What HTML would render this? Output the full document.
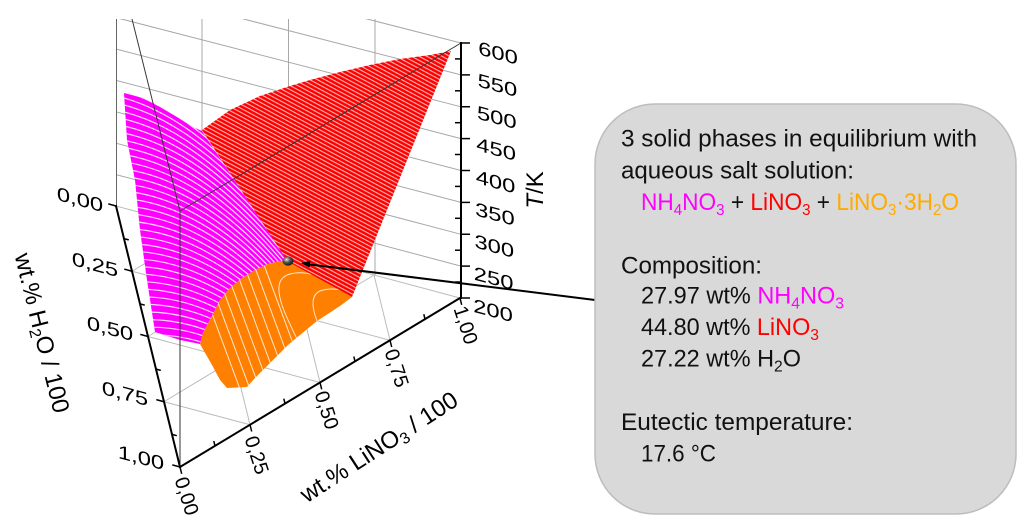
<!DOCTYPE html>
<html><head><meta charset="utf-8"><style>html,body{margin:0;padding:0;background:#fff;}svg{display:block}</style></head>
<body>
<svg width="1024" height="517" viewBox="0 0 1024 517" xmlns="http://www.w3.org/2000/svg" font-family="'Liberation Sans', Arial, sans-serif">
<defs>
  <clipPath id="plot"><rect x="0" y="19" width="590" height="498"/></clipPath>
  <clipPath id="cm"><polygon points="124,93 143,98 160,107 177,117 193,127 202,131 288,261 280,261 268,264 255,270 242,278 230,288 220,300 213,314 203,333 200,344 180,340 155,332 147,280 140,230 135,180 127,140"/></clipPath>
  <clipPath id="co"><polygon points="287,261 352,297 340,306 317,321 300,335 288,345 270,363 255,378 247,387 227,388 220,380 212,365 200,344 203,333 213,314 220,300 230,288 242,278 255,270 268,264 280,261"/></clipPath>
  <pattern id="rs" patternUnits="userSpaceOnUse" width="20" height="3.6" patternTransform="rotate(28)">
    <rect width="20" height="3.6" fill="#ff0000"/>
    <rect y="0" width="20" height="1.1" fill="#ffb4b4"/>
  </pattern>
  <radialGradient id="sph" cx="0.38" cy="0.35" r="0.7">
    <stop offset="0" stop-color="#e8e8e8"/>
    <stop offset="0.45" stop-color="#555"/>
    <stop offset="1" stop-color="#111"/>
  </radialGradient>
</defs>

<g clip-path="url(#plot)">
  <g stroke="#a8a8a8" stroke-width="1" fill="none">
    <line x1="116" y1="174.6" x2="461" y2="266.1"/>
    <line x1="116" y1="143.2" x2="461" y2="234.3"/>
    <line x1="116" y1="111.8" x2="461" y2="202.4"/>
    <line x1="116" y1="80.4" x2="461" y2="170.5"/>
    <line x1="116" y1="49" x2="461" y2="138.6"/>
    <line x1="116" y1="17.6" x2="461" y2="106.8"/>
    <line x1="116" y1="-13.8" x2="461" y2="74.9"/>
    <line x1="116" y1="-45.2" x2="461" y2="43"/>
    <line x1="202" y1="229" x2="202" y2="-40"/>
    <line x1="288.5" y1="252" x2="288.5" y2="-40"/>
    <line x1="375" y1="275" x2="375" y2="-40"/>
  </g>
  <g stroke="#bbbbbb" stroke-width="1" fill="none">
    <line x1="116" y1="206" x2="460" y2="298"/>
    <line x1="202" y1="229" x2="250" y2="424.75"/>
    <line x1="288" y1="252" x2="320" y2="382.5"/>
    <line x1="374" y1="275" x2="390" y2="340.25"/>
    <line x1="132" y1="271.25" x2="390" y2="340.25"/>
    <line x1="148" y1="336.5" x2="320" y2="382.5"/>
    <line x1="164" y1="401.75" x2="250" y2="424.75"/>
    <line x1="164" y1="401.75" x2="374" y2="275"/>
    <line x1="148" y1="336.5" x2="288" y2="252"/>
    <line x1="132" y1="271.25" x2="202" y2="229"/>
  </g>
  <line x1="116.5" y1="206" x2="116.5" y2="-45" stroke="#666" stroke-width="1"/>

  <polygon points="124,93 143,98 160,107 177,117 193,127 202,131 288,261 280,261 268,264 255,270 242,278 230,288 220,300 213,314 203,333 200,344 180,340 155,332 147,280 140,230 135,180 127,140" fill="#ff00ff"/>
  <g clip-path="url(#cm)">
    <path fill="none" stroke="#ffffff" stroke-opacity="0.85" stroke-width="1.2" d="M76.9 84Q186.9 84 296.9 239M79.3 91.6Q189.3 91.6 299.3 246.6M81.6 99.2Q191.6 99.2 301.6 254.2M83.9 106.8Q193.9 106.8 303.9 261.8M86.2 114.4Q196.2 114.4 306.2 269.4M88.6 122Q198.6 122 308.6 277M90.9 129.6Q200.9 129.6 310.9 284.6M93.2 137.2Q203.2 137.2 313.2 292.2M95.5 144.8Q205.5 144.8 315.5 299.8M97.9 152.4Q207.9 152.4 317.9 307.4M100.2 160Q210.2 160 320.2 315M102.5 167.6Q212.5 167.6 322.5 322.6M104.8 175.2Q214.8 175.2 324.8 330.2M107.2 182.8Q217.2 182.8 327.2 337.8M109.5 190.4Q219.5 190.4 329.5 345.4M111.8 198Q221.8 198 331.8 353M114.2 205.6Q224.2 205.6 334.2 360.6M116.5 213.2Q226.5 213.2 336.5 368.2M118.8 220.8Q228.8 220.8 338.8 375.8M121.1 228.4Q231.1 228.4 341.1 383.4M123.5 236Q233.5 236 343.5 391M125.8 243.6Q235.8 243.6 345.8 398.6M128.1 251.2Q238.1 251.2 348.1 406.2M130.4 258.8Q240.4 258.8 350.4 413.8M132.8 266.4Q242.8 266.4 352.8 421.4M135.1 274Q245.1 274 355.1 429M137.4 281.6Q247.4 281.6 357.4 436.6M139.7 289.2Q249.7 289.2 359.7 444.2M142.1 296.8Q252.1 296.8 362.1 451.8M144.4 304.4Q254.4 304.4 364.4 459.4M146.7 312Q256.7 312 366.7 467M149 319.6Q259 319.6 369 474.6M151.4 327.2Q261.4 327.2 371.4 482.2M153.7 334.8Q263.7 334.8 373.7 489.8M156 342.4Q266 342.4 376 497.4"/>
  </g>

  <polygon points="202,130 230,110 260,96 290,86 310,80 340,72 370,65 400,59 430,55 451,51 352,297 288,262" fill="url(#rs)"/>

  <polygon points="287,261 352,297 340,306 317,321 300,335 288,345 270,363 255,378 247,387 227,388 220,380 212,365 200,344 203,333 213,314 220,300 230,288 242,278 255,270 268,264 280,261" fill="#ff8000"/>
  <g clip-path="url(#co)" stroke="#ffffff" stroke-opacity="0.8" stroke-width="1" fill="none">
    <line x1="181.1" y1="230" x2="247.7" y2="410"/>
    <line x1="191.1" y1="230" x2="257.7" y2="410"/>
    <line x1="201.1" y1="230" x2="267.7" y2="410"/>
    <line x1="211.1" y1="230" x2="277.7" y2="410"/>
    <line x1="221.1" y1="230" x2="287.7" y2="410"/>
    <line x1="231.1" y1="230" x2="297.7" y2="410"/>
    <line x1="241.1" y1="230" x2="307.7" y2="410"/>
    <line x1="251.1" y1="230" x2="317.7" y2="410"/>
    <path d="M300 345 C285 315 274 292 281 280 C289 268 320 270 352 293"/>
    <path d="M322 332 C312 312 309 296 320 291 C331 287 345 289 358 296"/>
  </g>

  <g stroke="#333" stroke-width="1" fill="none">
    <line x1="180" y1="211" x2="461" y2="43"/>
    <line x1="180" y1="211" x2="116" y2="-45"/>
    <line x1="180" y1="211" x2="180" y2="467"/>
  </g>
</g>

<g stroke="#000" stroke-width="2" fill="none" stroke-linecap="square">
  <line x1="116" y1="206" x2="180" y2="467"/>
  <line x1="180" y1="467" x2="460" y2="298"/>
  <line x1="461" y1="43" x2="461" y2="298"/>
</g>
<g stroke="#000" stroke-width="1.5" fill="none">
  <line x1="461" y1="43" x2="470" y2="43"/>
  <line x1="461" y1="74.9" x2="470" y2="74.9"/>
  <line x1="461" y1="106.75" x2="470" y2="106.75"/>
  <line x1="461" y1="138.6" x2="470" y2="138.6"/>
  <line x1="461" y1="170.5" x2="470" y2="170.5"/>
  <line x1="461" y1="202.4" x2="470" y2="202.4"/>
  <line x1="461" y1="234.25" x2="470" y2="234.25"/>
  <line x1="461" y1="266.1" x2="470" y2="266.1"/>
  <line x1="461" y1="298" x2="470" y2="298"/>
  <line x1="455" y1="58.9" x2="461" y2="58.9"/>
  <line x1="455" y1="90.8" x2="461" y2="90.8"/>
  <line x1="455" y1="122.7" x2="461" y2="122.7"/>
  <line x1="455" y1="154.5" x2="461" y2="154.5"/>
  <line x1="455" y1="186.4" x2="461" y2="186.4"/>
  <line x1="455" y1="218.3" x2="461" y2="218.3"/>
  <line x1="455" y1="250.2" x2="461" y2="250.2"/>
  <line x1="455" y1="282" x2="461" y2="282"/>
  <line x1="180" y1="467" x2="181.7" y2="473.8"/>
  <line x1="250" y1="424.75" x2="251.7" y2="431.5"/>
  <line x1="320" y1="382.5" x2="321.7" y2="389.3"/>
  <line x1="390" y1="340.25" x2="391.7" y2="347"/>
  <line x1="460" y1="298" x2="461.7" y2="304.8"/>
  <line x1="215" y1="445.9" x2="213.8" y2="441"/>
  <line x1="285" y1="403.6" x2="283.8" y2="398.7"/>
  <line x1="355" y1="361.4" x2="353.8" y2="356.5"/>
  <line x1="425" y1="319.1" x2="423.8" y2="314.2"/>
  <line x1="116" y1="206" x2="108.3" y2="203.9"/>
  <line x1="132" y1="271.25" x2="124.3" y2="269.15"/>
  <line x1="148" y1="336.5" x2="140.3" y2="334.4"/>
  <line x1="164" y1="401.75" x2="156.3" y2="399.65"/>
  <line x1="180" y1="467" x2="172.3" y2="464.9"/>
  <line x1="124" y1="238.6" x2="128.8" y2="239.9"/>
  <line x1="140" y1="303.9" x2="144.8" y2="305.2"/>
  <line x1="156" y1="369.1" x2="160.8" y2="370.4"/>
  <line x1="172" y1="434.4" x2="176.8" y2="435.7"/>
</g>

<ellipse cx="288" cy="261" rx="5.5" ry="4.6" fill="url(#sph)"/>
<line x1="308" y1="264.2" x2="595" y2="300" stroke="#000" stroke-width="2"/>
<polygon points="301,263 310.4,260.6 309.6,267.6" fill="#000"/>

<g font-size="19" fill="#000" text-anchor="middle">
  <text transform="translate(498,52.5) skewY(15) scale(1.25,1)" y="7">600</text>
  <text transform="translate(497.4,84.7) skewY(15) scale(1.25,1)" y="7">550</text>
  <text transform="translate(496.75,116.9) skewY(15) scale(1.25,1)" y="7">500</text>
  <text transform="translate(496.1,148.6) skewY(15) scale(1.25,1)" y="7">450</text>
  <text transform="translate(495.5,181.2) skewY(15) scale(1.25,1)" y="7">400</text>
  <text transform="translate(494.9,213.5) skewY(15) scale(1.25,1)" y="7">350</text>
  <text transform="translate(494.25,245.6) skewY(15) scale(1.25,1)" y="7">300</text>
  <text transform="translate(493.6,277.8) skewY(15) scale(1.25,1)" y="7">250</text>
  <text transform="translate(493,310) skewY(15) scale(1.25,1)" y="7">200</text>
  <text transform="translate(80,199) skewY(15) scale(1.25,1)" y="7">0,00</text>
  <text transform="translate(95,264) skewY(15) scale(1.25,1)" y="7">0,25</text>
  <text transform="translate(110,328) skewY(15) scale(1.25,1)" y="7">0,50</text>
  <text transform="translate(125,393) skewY(15) scale(1.25,1)" y="7">0,75</text>
  <text transform="translate(141,457) skewY(15) scale(1.25,1)" y="7">1,00</text>
</g>
<g font-size="20" fill="#000" text-anchor="middle">
  <text transform="translate(187,496) rotate(72)" y="7">0,00</text>
  <text transform="translate(257,455) rotate(72)" y="7">0,25</text>
  <text transform="translate(327,410) rotate(72)" y="7">0,50</text>
  <text transform="translate(397,368) rotate(72)" y="7">0,75</text>
  <text transform="translate(466,325) rotate(72)" y="7">1,00</text>
</g>
<g font-size="24" fill="#000" text-anchor="middle">
  <text transform="translate(42,333) rotate(76)" y="8">wt.% H<tspan font-size="16" dy="4">2</tspan><tspan dy="-4">O / 100</tspan></text>
  <text transform="translate(379,447) rotate(-33)" y="8">wt.% LiNO<tspan font-size="16" dy="4">3</tspan><tspan dy="-4"> / 100</tspan></text>
  <text transform="translate(535,190) rotate(-90)" y="8"><tspan font-style="italic">T</tspan>/K</text>
</g>

<rect x="595" y="104" width="421" height="410" rx="60" ry="60" fill="#d9d9d9" stroke="#bdbdbd" stroke-width="1.5"/>
<g font-size="24" fill="#111">
  <text x="621" y="146.7" textLength="356" lengthAdjust="spacingAndGlyphs">3 solid phases in equilibrium with</text>
  <text x="621" y="178.3" textLength="233" lengthAdjust="spacingAndGlyphs">aqueous salt solution:</text>
  <text x="641" y="210" textLength="318" lengthAdjust="spacingAndGlyphs"><tspan fill="#ff00ff">NH</tspan><tspan fill="#ff00ff" font-size="16" dy="5">4</tspan><tspan fill="#ff00ff" dy="-5">NO</tspan><tspan fill="#ff00ff" font-size="16" dy="5">3</tspan><tspan dy="-5"> + </tspan><tspan fill="#ff0000">LiNO</tspan><tspan fill="#ff0000" font-size="16" dy="5">3</tspan><tspan dy="-5"> + </tspan><tspan fill="#ffaa00">LiNO</tspan><tspan fill="#ffaa00" font-size="16" dy="5">3</tspan><tspan fill="#ffaa00" dy="-5">·3H</tspan><tspan fill="#ffaa00" font-size="16" dy="5">2</tspan><tspan fill="#ffaa00" dy="-5">O</tspan></text>
  <text x="621" y="273.3" textLength="141" lengthAdjust="spacingAndGlyphs">Composition:</text>
  <text x="641" y="303.5" textLength="203" lengthAdjust="spacingAndGlyphs">27.97 wt% <tspan fill="#ff00ff">NH</tspan><tspan fill="#ff00ff" font-size="16" dy="5">4</tspan><tspan fill="#ff00ff" dy="-5">NO</tspan><tspan fill="#ff00ff" font-size="16" dy="5">3</tspan></text>
  <text x="641" y="335" textLength="178" lengthAdjust="spacingAndGlyphs">44.80 wt% <tspan fill="#ff0000">LiNO</tspan><tspan fill="#ff0000" font-size="16" dy="5">3</tspan></text>
  <text x="641" y="366.7" textLength="160" lengthAdjust="spacingAndGlyphs">27.22 wt% H<tspan font-size="16" dy="5">2</tspan><tspan dy="-5">O</tspan></text>
  <text x="621" y="430" textLength="232" lengthAdjust="spacingAndGlyphs">Eutectic temperature:</text>
  <text x="641" y="461.7" textLength="75" lengthAdjust="spacingAndGlyphs">17.6 °C</text>
</g>
</svg>
</body></html>
